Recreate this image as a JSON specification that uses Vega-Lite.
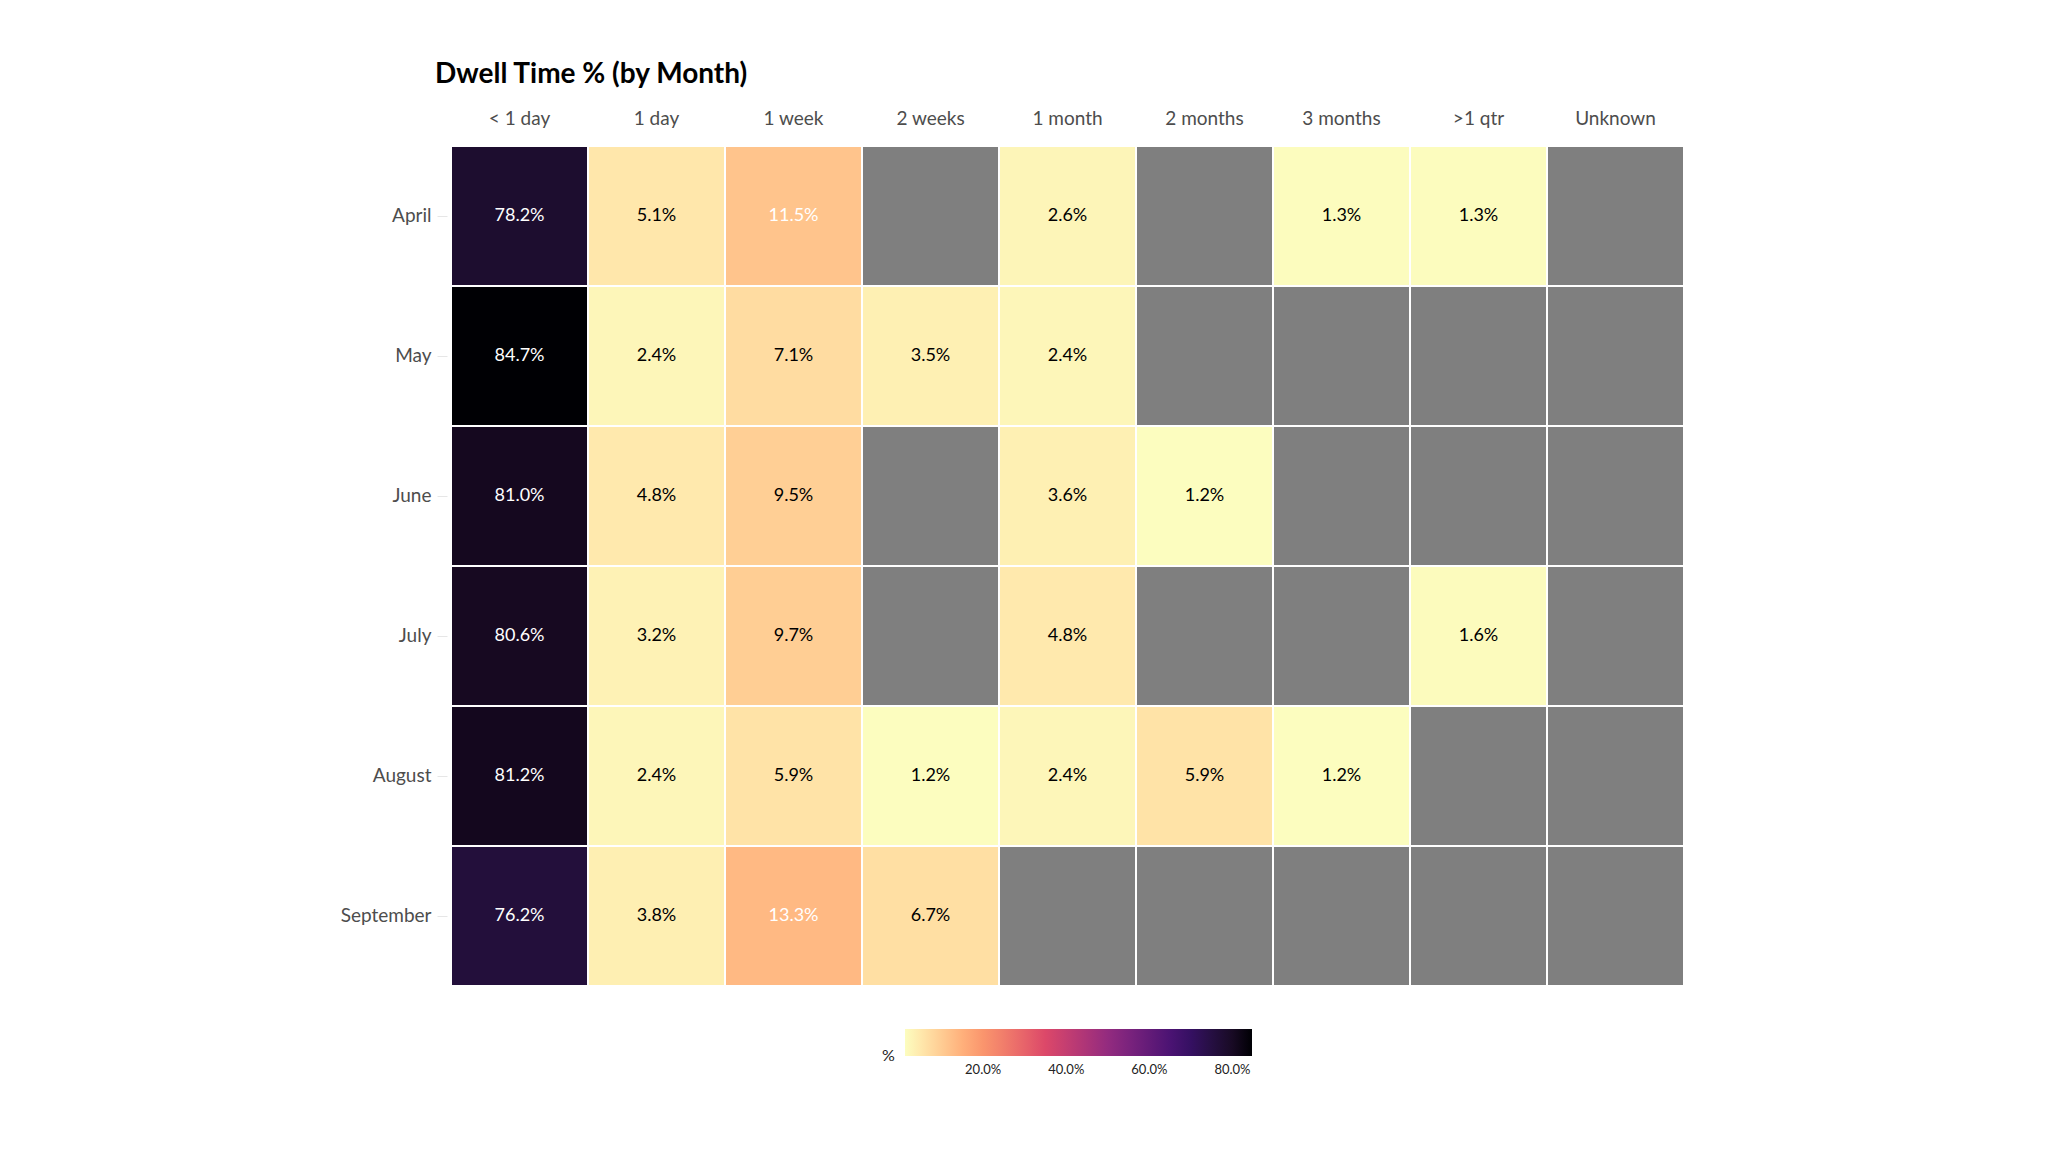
{
  "$schema": "https://vega.github.io/schema/vega-lite/v6.json",
  "autosize": {"type": "none"},
  "padding": {"left": 451, "top": 146, "right": 364, "bottom": 166},
  "width": 1233,
  "height": 840,
  "background": "white",
  "title": {
    "text": "Dwell Time % (by Month)",
    "anchor": "start",
    "frame": "group",
    "font": "Lato",
    "fontSize": 28,
    "fontWeight": "bold",
    "color": "black",
    "dx": -16,
    "offset": 20
  },
  "data": {
    "values": [
      {"month": "April", "dwell": "< 1 day", "pct": 0.782},
      {"month": "April", "dwell": "1 day", "pct": 0.051},
      {"month": "April", "dwell": "1 week", "pct": 0.115},
      {"month": "April", "dwell": "2 weeks", "pct": null},
      {"month": "April", "dwell": "1 month", "pct": 0.026},
      {"month": "April", "dwell": "2 months", "pct": null},
      {"month": "April", "dwell": "3 months", "pct": 0.013},
      {"month": "April", "dwell": ">1 qtr", "pct": 0.013},
      {"month": "April", "dwell": "Unknown", "pct": null},
      {"month": "May", "dwell": "< 1 day", "pct": 0.847},
      {"month": "May", "dwell": "1 day", "pct": 0.024},
      {"month": "May", "dwell": "1 week", "pct": 0.071},
      {"month": "May", "dwell": "2 weeks", "pct": 0.035},
      {"month": "May", "dwell": "1 month", "pct": 0.024},
      {"month": "May", "dwell": "2 months", "pct": null},
      {"month": "May", "dwell": "3 months", "pct": null},
      {"month": "May", "dwell": ">1 qtr", "pct": null},
      {"month": "May", "dwell": "Unknown", "pct": null},
      {"month": "June", "dwell": "< 1 day", "pct": 0.810},
      {"month": "June", "dwell": "1 day", "pct": 0.048},
      {"month": "June", "dwell": "1 week", "pct": 0.095},
      {"month": "June", "dwell": "2 weeks", "pct": null},
      {"month": "June", "dwell": "1 month", "pct": 0.036},
      {"month": "June", "dwell": "2 months", "pct": 0.012},
      {"month": "June", "dwell": "3 months", "pct": null},
      {"month": "June", "dwell": ">1 qtr", "pct": null},
      {"month": "June", "dwell": "Unknown", "pct": null},
      {"month": "July", "dwell": "< 1 day", "pct": 0.806},
      {"month": "July", "dwell": "1 day", "pct": 0.032},
      {"month": "July", "dwell": "1 week", "pct": 0.097},
      {"month": "July", "dwell": "2 weeks", "pct": null},
      {"month": "July", "dwell": "1 month", "pct": 0.048},
      {"month": "July", "dwell": "2 months", "pct": null},
      {"month": "July", "dwell": "3 months", "pct": null},
      {"month": "July", "dwell": ">1 qtr", "pct": 0.016},
      {"month": "July", "dwell": "Unknown", "pct": null},
      {"month": "August", "dwell": "< 1 day", "pct": 0.812},
      {"month": "August", "dwell": "1 day", "pct": 0.024},
      {"month": "August", "dwell": "1 week", "pct": 0.059},
      {"month": "August", "dwell": "2 weeks", "pct": 0.012},
      {"month": "August", "dwell": "1 month", "pct": 0.024},
      {"month": "August", "dwell": "2 months", "pct": 0.059},
      {"month": "August", "dwell": "3 months", "pct": 0.012},
      {"month": "August", "dwell": ">1 qtr", "pct": null},
      {"month": "August", "dwell": "Unknown", "pct": null},
      {"month": "September", "dwell": "< 1 day", "pct": 0.762},
      {"month": "September", "dwell": "1 day", "pct": 0.038},
      {"month": "September", "dwell": "1 week", "pct": 0.133},
      {"month": "September", "dwell": "2 weeks", "pct": 0.067},
      {"month": "September", "dwell": "1 month", "pct": null},
      {"month": "September", "dwell": "2 months", "pct": null},
      {"month": "September", "dwell": "3 months", "pct": null},
      {"month": "September", "dwell": ">1 qtr", "pct": null},
      {"month": "September", "dwell": "Unknown", "pct": null}
    ]
  },
  "encoding": {
    "x": {
      "field": "dwell",
      "type": "nominal",
      "sort": ["< 1 day", "1 day", "1 week", "2 weeks", "1 month", "2 months", "3 months", ">1 qtr", "Unknown"],
      "scale": {"paddingInner": 0, "paddingOuter": 0},
      "axis": {
        "orient": "top",
        "title": null,
        "ticks": false,
        "domain": false,
        "labelAngle": 0,
        "labelFont": "Lato",
        "labelFontSize": 19,
        "labelColor": "#4d4d4d",
        "labelPadding": 18
      }
    },
    "y": {
      "field": "month",
      "type": "nominal",
      "sort": ["April", "May", "June", "July", "August", "September"],
      "scale": {"paddingInner": 0, "paddingOuter": 0},
      "axis": {
        "title": null,
        "domain": false,
        "ticks": true,
        "tickSize": 10,
        "tickColor": "#e6e6e6",
        "offset": 4,
        "labelFont": "Lato",
        "labelFontSize": 19,
        "labelColor": "#4d4d4d",
        "labelPadding": 6
      }
    }
  },
  "layer": [
    {
      "mark": {"type": "rect", "fill": "#7f7f7f", "stroke": "white", "strokeWidth": 2}
    },
    {
      "transform": [{"filter": "datum.pct != null"}],
      "mark": {"type": "rect", "stroke": "white", "strokeWidth": 2},
      "encoding": {
        "color": {
          "field": "pct",
          "type": "quantitative",
          "scale": {
            "domain": [0.012, 0.179, 0.346, 0.513, 0.68, 0.847],
            "range": ["#FCFDBF", "#FE9F6D", "#DE4968", "#8C2981", "#3B0F70", "#000004"],
            "interpolate": "lab",
            "zero": false,
            "nice": false
          },
          "legend": {
            "orient": "none",
            "legendX": 431,
            "legendY": 883,
            "direction": "horizontal",
            "title": "%",
            "titleOrient": "left",
            "titleFont": "Lato",
            "titleFontSize": 16,
            "titleFontWeight": "normal",
            "titleColor": "#222",
            "titleAnchor": "end",
            "titleBaseline": "middle",
            "titlePadding": 10,
            "gradientLength": 347,
            "gradientThickness": 27,
            "gradientStrokeWidth": 0,
            "values": [0.2, 0.4, 0.6, 0.8],
            "format": ".1%",
            "labelFont": "Lato",
            "labelFontSize": 13,
            "labelColor": "#222",
            "labelOffset": 8
          }
        }
      }
    },
    {
      "transform": [{"filter": "datum.pct != null"}],
      "mark": {"type": "text", "font": "Lato", "fontSize": 18},
      "encoding": {
        "text": {"field": "pct", "type": "quantitative", "format": ".1%"},
        "color": {"condition": {"test": "datum.pct > 0.1", "value": "white"}, "value": "black"}
      }
    }
  ],
  "config": {
    "view": {"stroke": null}
  }
}
